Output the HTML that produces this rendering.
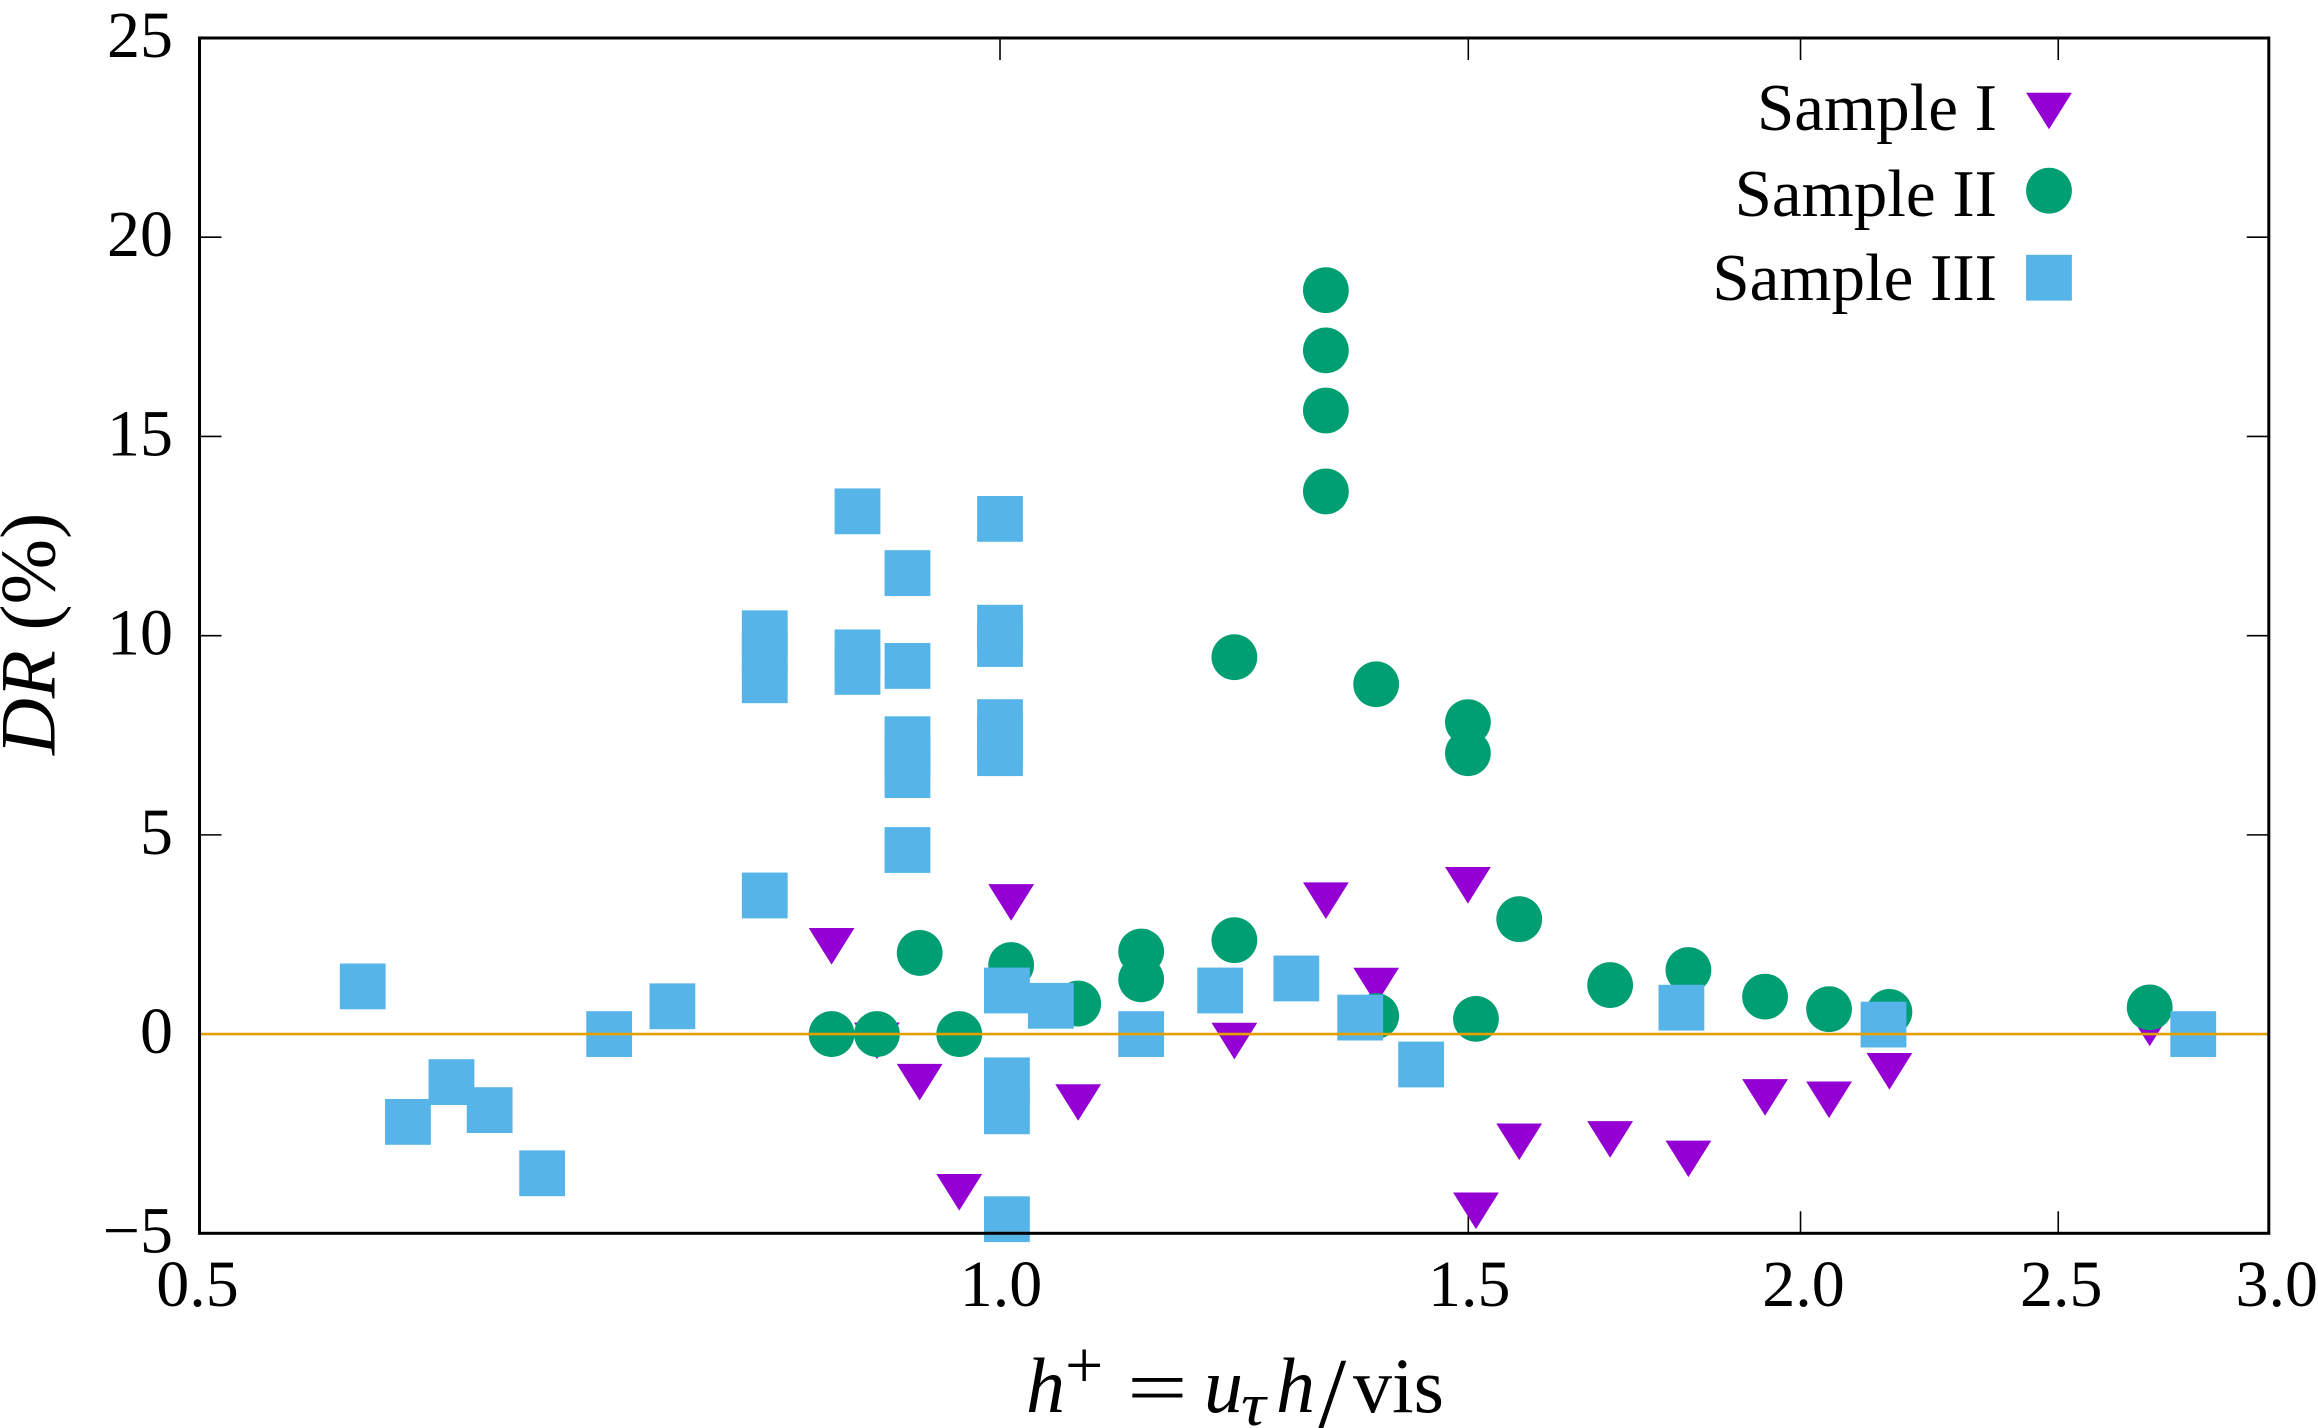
<!DOCTYPE html>
<html lang="en">
<head>
<meta charset="utf-8">
<title>Drag reduction versus h+</title>
<style>
html,body{margin:0;padding:0;background:#fff;width:2318px;height:1428px;overflow:hidden}
svg{display:block;position:absolute;left:0;top:0}
text{font-family:"Liberation Serif",serif;fill:#000}
</style>
</head>
<body>
<svg id="chart" xmlns="http://www.w3.org/2000/svg" width="2318" height="1428" viewBox="0 0 2318 1428">
  <rect x="0" y="0" width="2318" height="1428" fill="#fff"/>
  <g id="ticks"></g>
  <g id="tick-labels"></g>
  <g id="marks"></g>
  <g id="zero"></g>
  <rect x="199.5" y="38" width="2069.3" height="1195.3" fill="none" stroke="#000" stroke-width="3"/>

  <text transform="translate(54.5,755) rotate(-90)" font-size="78.6"><tspan font-style="italic">DR</tspan> (%)</text>

  <g font-size="78">
    <text x="1026" y="1412" font-style="italic">h</text>
    <text x="1065" y="1388" font-size="68">+</text>
    <text transform="translate(1127,1414) scale(1.38,1)">=</text>
    <text x="1204" y="1412" font-style="italic">u</text>
    <text transform="translate(1241,1425) scale(1.15,1)" font-size="60" font-style="italic">τ</text>
    <text x="1276" y="1412" font-style="italic">h</text>
    <text transform="translate(1318,1428) scale(1.3,1.3)">/</text>
    <text x="1353" y="1412">vis</text>
  </g>

  <g id="legend" font-size="67">
    <g>
      <text x="1997" y="130" text-anchor="end">Sample I</text>
      <polygon points="2026.1,92.7 2071.9,92.7 2049,129.3" fill="#9400d3"/>
    </g>
    <g>
      <text x="1997" y="216" text-anchor="end">Sample II</text>
      <circle cx="2049" cy="190.7" r="22.9" fill="#009e73"/>
    </g>
    <g>
      <text x="1997" y="300" text-anchor="end">Sample III</text>
      <rect x="2026.1" y="254.8" width="45.8" height="45.8" fill="#56b4e9"/>
    </g>
  </g>
</svg>
<script>
const xTicks = [0.5, 1.0, 1.5, 2.0, 2.5, 3.0];
const xTickLabels = ["0.5", "1.0", "1.5", "2.0", "2.5", "3.0"];
const yTicks = [-5, 0, 5, 10, 15, 20, 25];
const yTickLabels = ["\u22125", "0", "5", "10", "15", "20", "25"];

const sample1X = [0.8643, 0.8989, 0.9328, 0.9653, 1.0097, 1.070, 1.225, 1.326, 1.385, 1.4995, 1.510, 1.5676, 1.696, 1.815, 1.9395, 2.050, 2.160, 2.706];
const sample1Y = [2.362, -0.01, -1.049, -3.813, 3.461, -1.559, -0.018, 3.507, 1.365, 3.893, -4.277, -2.545, -2.487, -2.974, -1.433, -1.491, -0.776, 0.311];

const sample2X = [1.326, 1.326, 1.326, 1.326, 1.225, 1.385, 1.4995, 1.4995, 0.8643, 0.8989, 0.9653, 0.9328, 1.0097, 1.070, 1.130, 1.130, 1.225, 1.385, 1.510, 1.5676, 1.696, 1.815, 1.9395, 2.050, 2.160, 2.706];
const sample2Y = [18.67, 17.16, 15.65, 13.62, 9.46, 8.78, 7.83, 7.05, 0, 0, 0, 2.036, 1.734, 0.766, 2.073, 1.373, 2.357, 0.454, 0.382, 2.884, 1.230, 1.609, 0.941, 0.625, 0.557, 0.670];

const sample3X = [0.5759, 0.5989, 0.6219, 0.6428, 0.6727, 0.7129, 0.7530, 0.8157, 0.8157, 0.8157, 0.8157, 0.8839, 0.8839, 0.8839, 0.9230, 0.9230, 0.9230, 0.9230, 0.9230, 0.9230, 1.0, 1.0, 1.0, 1.0, 1.0, 1.0, 1.006, 1.045, 1.006, 1.006, 1.006, 1.130, 1.210, 1.2925, 1.366, 1.440, 1.804, 2.149, 2.810];
const sample3Y = [1.197, -2.204, -1.205, -1.908, -3.494, 0, 0.698, 3.479, 10.06, 9.51, 8.88, 13.12, 9.58, 9.09, 11.57, 9.24, 7.40, 6.95, 6.50, 4.62, 12.93, 10.20, 9.79, 7.83, 7.42, 7.05, 1.094, 0.710, -1.16, -1.938, -4.646, 0, 1.094, 1.396, 0.414, -0.763, 0.663, 0.238, 0];

const zeroLineValue = 0;

const NS = "http://www.w3.org/2000/svg";
const plotLeft = 199.5, plotRight = 2268.8, plotTop = 38, plotBottom = 1233.3;
const xMin = 0.5, xMax = 3, yMin = -5, yMax = 25;
const markerSize = 45.8;

function xScale(v) {
  return plotLeft + (Math.log(v / xMin) / Math.log(xMax / xMin)) * (plotRight - plotLeft);
}
function yScale(v) {
  return plotBottom - ((v - yMin) / (yMax - yMin)) * (plotBottom - plotTop);
}
function xLabelOffset(v) {
  if (v >= 3) return 8;
  if (v >= 2) return 3;
  if (v <= 0.5) return -2;
  return 1;
}
function make(tag, attrs, parent) {
  const el = document.createElementNS(NS, tag);
  for (const k in attrs) el.setAttribute(k, attrs[k]);
  parent.appendChild(el);
  return el;
}

const ticksGroup = document.getElementById("ticks");
const labelsGroup = document.getElementById("tick-labels");
const marksGroup = document.getElementById("marks");
const zeroGroup = document.getElementById("zero");
const tickLength = 22;

xTicks.forEach(function (v, i) {
  const px = xScale(v);
  const lower = make("line", {x1: px, x2: px, y1: plotBottom, y2: plotBottom - tickLength, stroke: "#000", "stroke-width": 1.6}, ticksGroup);
  
  
  const upper = make("line", {x1: px, x2: px, y1: plotTop, y2: plotTop + tickLength, stroke: "#000", "stroke-width": 1.6}, ticksGroup);
  
  
  const label = make("text", {x: px + xLabelOffset(v), y: 1306, "text-anchor": "middle", "font-size": 66}, labelsGroup);
  label.textContent = xTickLabels[i];
  
  
});

yTicks.forEach(function (v, i) {
  const py = yScale(v);
  const left = make("line", {x1: plotLeft, x2: plotLeft + tickLength, y1: py, y2: py, stroke: "#000", "stroke-width": 1.6}, ticksGroup);
  
  
  const right = make("line", {x1: plotRight, x2: plotRight - tickLength, y1: py, y2: py, stroke: "#000", "stroke-width": 1.6}, ticksGroup);
  
  
  const label = make("text", {x: 173, y: py + 19, "text-anchor": "end", "font-size": 66}, labelsGroup);
  label.textContent = yTickLabels[i];
  
  
});

sample1X.forEach(function (v, i) {
  const cx = xScale(v), cy = yScale(sample1Y[i]);
  const half = markerSize / 2;
  const pts = (cx - half) + "," + (cy - 12) + " " + (cx + half) + "," + (cy - 12) + " " + cx + "," + (cy + 24.6);
  const mark = make("polygon", {points: pts, fill: "#9400d3"}, marksGroup);
  
  
});

sample2X.forEach(function (v, i) {
  const mark = make("circle", {cx: xScale(v), cy: yScale(sample2Y[i]), r: markerSize / 2, fill: "#009e73"}, marksGroup);
  
  
});

sample3X.forEach(function (v, i) {
  const mark = make("rect", {x: xScale(v) - markerSize / 2, y: yScale(sample3Y[i]) - markerSize / 2, width: markerSize, height: markerSize, fill: "#56b4e9"}, marksGroup);
  
  
});

const zeroLine = make("line", {x1: plotLeft, x2: plotRight, y1: yScale(zeroLineValue), y2: yScale(zeroLineValue), stroke: "#e69f00", "stroke-width": 2.6}, zeroGroup);


</script>
</body>
</html>
